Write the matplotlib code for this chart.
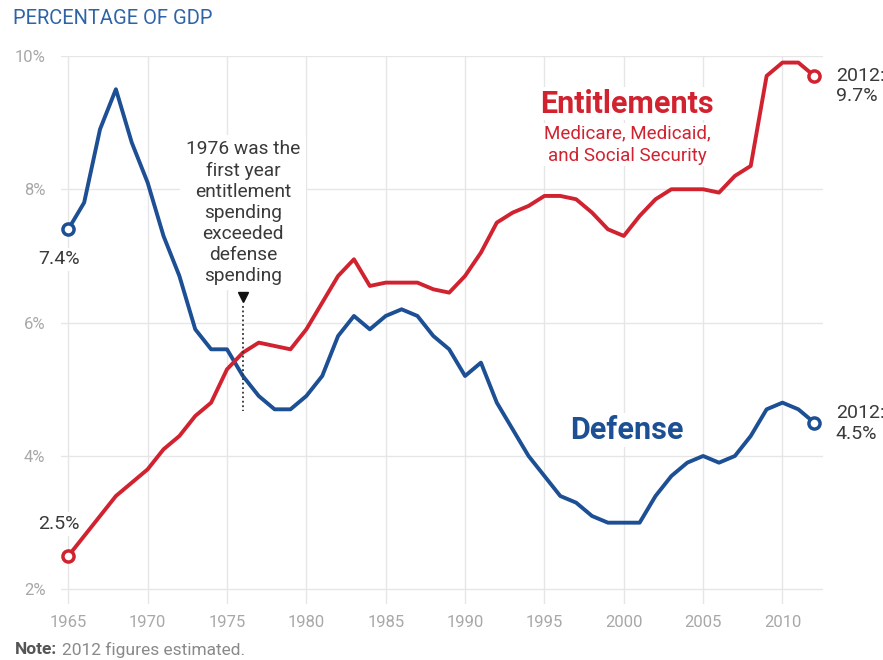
import matplotlib
matplotlib.use("Agg")
import matplotlib.pyplot as plt

plt.rcParams['font.family'] = ['Roboto', 'DejaVu Sans']

years = list(range(1965, 2013))
defense = [7.4, 7.8, 8.9, 9.5, 8.7, 8.1, 7.3, 6.7, 5.9, 5.6,
           5.6, 5.2, 4.9, 4.7, 4.7, 4.9, 5.2, 5.8, 6.1, 5.9,
           6.1, 6.2, 6.1, 5.8, 5.6, 5.2, 5.4, 4.8, 4.4, 4.0,
           3.7, 3.4, 3.3, 3.1, 3.0, 3.0, 3.0, 3.4, 3.7, 3.9,
           4.0, 3.9, 4.0, 4.3, 4.7, 4.8, 4.7, 4.5]
entitlements = [2.5, 2.8, 3.1, 3.4, 3.6, 3.8, 4.1, 4.3, 4.6, 4.8,
                5.3, 5.55, 5.7, 5.65, 5.6, 5.9, 6.3, 6.7, 6.95, 6.55,
                6.6, 6.6, 6.6, 6.5, 6.45, 6.7, 7.05, 7.5, 7.65, 7.75,
                7.9, 7.9, 7.85, 7.65, 7.4, 7.3, 7.6, 7.85, 8.0, 8.0,
                8.0, 7.95, 8.2, 8.35, 9.7, 9.9, 9.9, 9.7]
xticks = list(range(1965, 2011, 5))
yticks = [2, 4, 6, 8, 10]
ytick_labels = ['2%', '4%', '6%', '8%', '10%']

blue = '#1c4f93'
red = '#d12230'
grey = '#a8a8a8'
dark = '#3a3a3a'

fig = plt.figure(figsize=(8.83, 6.6), dpi=100)
ax = fig.add_axes([0.0687, 0.0848, 0.8633, 0.8305])
ax.set_xlim(1964.52, 2012.55)
ax.set_ylim(1.78, 10.0)

for s in ax.spines.values():
    s.set_visible(False)
ax.set_xticks(xticks)
ax.set_yticks(yticks)
ax.set_yticklabels(ytick_labels)
ax.tick_params(axis='both', length=0, colors=grey, labelsize=12)
ax.tick_params(axis='x', pad=8)
ax.tick_params(axis='y', pad=11)
ax.grid(True, color='#e6e6e6', linewidth=1.0, zorder=0)
ax.set_axisbelow(True)

for vals, col in [(defense, blue), (entitlements, red)]:
    ax.plot(years, vals, color=col, linewidth=2.8, solid_joinstyle='round',
            zorder=4, clip_on=False)
    ax.plot([years[0], years[-1]], [vals[0], vals[-1]], 'o', color=col,
            markerfacecolor='white', markersize=8, markeredgewidth=2.5,
            zorder=5, clip_on=False)

wbox = dict(facecolor='white', edgecolor='none', pad=2)
ax.text(1964.4, 6.95, f'{defense[0]}%', ha='center', va='center', fontsize=14,
        color=dark, bbox=wbox, zorder=3)
ax.text(1964.4, 2.98, f'{entitlements[0]}%', ha='center', va='center', fontsize=14,
        color=dark, bbox=wbox, zorder=3)
ax.text(2013.35, 9.55, f'2012:\n{entitlements[-1]}%', ha='left', va='center',
        fontsize=14, color=dark, linespacing=1.2)
ax.text(2013.35, 4.49, f'2012:\n{defense[-1]}%', ha='left', va='center',
        fontsize=14, color=dark, linespacing=1.2)

ax.text(2000.2, 9.28, 'Entitlements', ha='center', va='center', fontsize=22,
        fontweight='bold', color=red, bbox=dict(facecolor='white', edgecolor='none', pad=1), zorder=3)
ax.text(2000.2, 8.67, 'Medicare, Medicaid,\nand Social Security', ha='center',
        va='center', fontsize=13.5, color=red, linespacing=1.3,
        bbox=dict(facecolor='white', edgecolor='none', pad=1), zorder=3)
ax.text(2000.2, 4.39, 'Defense', ha='center', va='center', fontsize=22,
        fontweight='bold', color=blue, bbox=dict(facecolor='white', edgecolor='none', pad=1), zorder=3)

ax.text(1976, 7.65, '1976 was the\nfirst year\nentitlement\nspending\nexceeded\ndefense\nspending',
        ha='center', va='center', fontsize=13.8, color=dark, linespacing=1.22,
        bbox=dict(facecolor='white', edgecolor='none', pad=4), zorder=3)
ax.plot([1976], [6.38], marker='v', color='#111111', markersize=7, zorder=6)
ax.plot([1976, 1976], [6.25, 4.68], color='#333333', linewidth=1.3,
        linestyle=(0, (1, 1.5)), zorder=6)

fig.text(13 / 883, 1 - 18 / 660, 'PERCENTAGE OF GDP', ha='left', va='center',
         fontsize=14.5, color='#2e64a6')
note = fig.text(15 / 883, 1 - 650 / 660, 'Note:', ha='left', va='center', fontsize=12.5,
                fontweight='bold', color='#555555')
fig.canvas.draw()
bb = note.get_window_extent()
fig.text((bb.x1 + 5) / 883, 1 - 650 / 660, '2012 figures estimated.', ha='left', va='center',
         fontsize=12.5, color='#8a8a8a')

fig.savefig('out.png', dpi=100)
